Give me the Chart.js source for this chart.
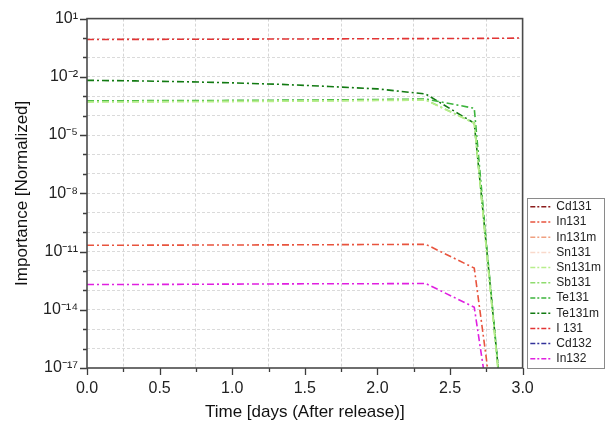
<!DOCTYPE html>
<html>
<head>
<meta charset="utf-8">
<script src="https://cdn.jsdelivr.net/npm/chart.js@4.4.0/dist/chart.umd.min.js"></script>
<style>
  body { margin: 0; background: #fff; }
  #wrap { width: 612px; height: 426px; }
</style>
</head>
<body>
<div id="wrap"><canvas id="chart" width="612" height="426"></canvas></div>
<script>
// Time points [days after release]
const times = [0, 0.333, 0.667, 1.0, 1.333, 1.667, 2.0, 2.333, 2.667, 2.75, 2.833, 3.0];

// Normalized importance per nuclide (null = not visible in plotted range)
const cd131  = [null, null, null, null, null, null, null, null, null, null, null, null];
const in131  = [2.1e-11, 2.12e-11, 2.15e-11, 2.18e-11, 2.2e-11, 2.25e-11, 2.3e-11, 2.35e-11, 1.4e-12, 3.2e-17, 1e-22, null];
const in131m = [null, null, null, null, null, null, null, null, null, null, null, null];
const sn131  = [null, null, null, null, null, null, null, null, null, null, null, null];
const sn131m = [5.0e-4, 5.1e-4, 5.2e-4, 5.3e-4, 5.5e-4, 5.7e-4, 6.0e-4, 6.3e-4, 4.0e-5, 1.4e-11, 5e-18, null];
const sb131  = [5.3e-4, 5.4e-4, 5.5e-4, 5.6e-4, 5.8e-4, 6.0e-4, 6.3e-4, 6.6e-4, 4.2e-5, 1.5e-11, 6e-18, null];
const te131  = [5.8e-4, 5.9e-4, 6.0e-4, 6.1e-4, 6.3e-4, 6.5e-4, 6.8e-4, 7.2e-4, 2.4e-4, 3e-11, 9e-18, null];
const te131m = [6.6e-3, 6.2e-3, 5.6e-3, 4.9e-3, 4.1e-3, 3.2e-3, 2.4e-3, 1.3e-3, 4.1e-5, 2.1e-11, 8e-18, null];
const i131   = [0.84, 0.85, 0.86, 0.87, 0.89, 0.90, 0.92, 0.93, 0.95, 0.96, 0.97, 1.0];
const cd132  = [null, null, null, null, null, null, null, null, null, null, null, null];
const in132  = [2.0e-13, 2.0e-13, 2.05e-13, 2.1e-13, 2.15e-13, 2.2e-13, 2.2e-13, 2.25e-13, 1.35e-14, 1e-18, null, null];

const seriesNames = ['Cd131', 'In131', 'In131m', 'Sn131', 'Sn131m', 'Sb131', 'Te131', 'Te131m', 'I 131', 'Cd132', 'In132'];
const seriesData = [cd131, in131, in131m, sn131, sn131m, sb131, te131, te131m, i131, cd132, in132];
const seriesColors = ['#8b1c1c', '#e8543e', '#f0a080', '#f9d9cb', '#b8ee8c', '#8fdc6e', '#3cb43c', '#127a12', '#e23434', '#32329a', '#e020e0'];

// Axis ticks
const yExponents = [1, 0, -1, -2, -3, -4, -5, -6, -7, -8, -9, -10, -11, -12, -13, -14, -15, -16, -17];
const xMin = 0, xMax = 3, xStep = 0.25;

const supMap = {'-': '\u207B', '0': '\u2070', '1': '\u00B9', '2': '\u00B2', '3': '\u00B3',
  '4': '\u2074', '5': '\u2075', '6': '\u2076', '7': '\u2077', '8': '\u2078', '9': '\u2079'};

function isMajorExp(e) {
    return (e - 1) % 3 === 0;
}

function isHalf(v) {
    return Math.abs(v * 2 - Math.round(v * 2)) < 1e-9;
}

const dash = [7, 3, 2, 3];

const datasets = seriesNames.map((name, i) => ({
    label: name,
    data: times.map((t, j) => ({x: t, y: seriesData[i][j]})),
    borderColor: seriesColors[i],
    backgroundColor: seriesColors[i],
    borderWidth: 1.6,
    borderDash: dash,
    pointRadius: 0,
    fill: false,
    spanGaps: false,
    tension: 0
}));

// frame, tick marks and legend box
const framePlugin = {
    id: 'frame',
    afterLayout(chart) {
        // legend box sits a few px right of the plot frame
        const lg = chart.legend;
        lg.left += 4.5;
        lg.right += 4.5;
    },
    afterDraw(chart) {
        const ctx = chart.ctx;
        const a = chart.chartArea;
        const xs = chart.scales.x;
        const ys = chart.scales.y;
        ctx.save();
        ctx.strokeStyle = '#3c3c3c';
        ctx.lineWidth = 1.3;
        ctx.beginPath();
        yExponents.forEach(e => {
            const y = Math.round(ys.getPixelForValue(Math.pow(10, e))) + 0.5;
            const len = isMajorExp(e) ? 7 : 4;
            ctx.moveTo(a.left - len, y);
            ctx.lineTo(a.left, y);
        });
        for (let v = xMin; v <= xMax + 1e-9; v += xStep) {
            const x = Math.round(xs.getPixelForValue(v)) + 0.5;
            const len = isHalf(v) ? 7 : 4;
            ctx.moveTo(x, a.bottom);
            ctx.lineTo(x, a.bottom + len);
        }
        ctx.stroke();
        ctx.lineWidth = 1.6;
        ctx.strokeStyle = '#4a4a4a';
        ctx.strokeRect(a.left, a.top, a.right - a.left, a.bottom - a.top);

        // legend border
        const boxes = chart.legend.legendHitBoxes;
        if (boxes && boxes.length) {
            let l = Infinity, t = Infinity, r = -Infinity, b = -Infinity;
            boxes.forEach(h => {
                l = Math.min(l, h.left); t = Math.min(t, h.top);
                r = Math.max(r, h.left + h.width); b = Math.max(b, h.top + h.height);
            });
            ctx.lineWidth = 1;
            ctx.strokeStyle = '#8a8a8a';
            ctx.strokeRect(Math.round(l - 3) + 0.5, Math.round(t - 3) + 0.5, Math.round(r - l + 6), Math.round(b - t + 6));
        }
        ctx.restore();
    }
};

new Chart(document.getElementById('chart'), {
    type: 'line',
    data: { datasets: datasets },
    plugins: [framePlugin],
    options: {
        responsive: false,
        animation: false,
        layout: { padding: { top: 18, right: 5.5, left: 0, bottom: 0 } },
        plugins: {
            tooltip: { enabled: false },
            legend: {
                position: 'right',
                align: 'end',
                fullSize: false,
                labels: {
                    usePointStyle: true,
                    pointStyle: 'line',
                    pointStyleWidth: 20,
                    boxHeight: 12,
                    padding: 3.2,
                    color: '#222',
                    font: { family: 'Liberation Sans, Arial, sans-serif', size: 12 },
                    generateLabels: chart => Chart.defaults.plugins.legend.labels.generateLabels(chart)
                        .map(item => Object.assign(item, { lineDash: [5, 2, 2, 2], lineWidth: 1.5 }))
                }
            }
        },
        scales: {
            x: {
                type: 'linear',
                min: xMin,
                max: xMax,
                afterFit: s => { s.height = 58; },
                afterBuildTicks: s => {
                    const t = [];
                    for (let v = xMin; v <= xMax + 1e-9; v += xStep) t.push({value: Math.round(v * 100) / 100});
                    s.ticks = t;
                },
                ticks: {
                    autoSkip: false,
                    maxRotation: 0,
                    padding: 11,
                    color: '#222',
                    font: { family: 'Liberation Sans, Arial, sans-serif', size: 16 },
                    callback: v => isHalf(v) ? v.toFixed(1) : ''
                },
                grid: {
                    drawTicks: false,
                    lineWidth: 1,
                    color: c => (c.tick && isHalf(c.tick.value)) ? 'rgba(0,0,0,0)' : '#d6d6d6'
                },
                border: { display: false, dash: [3, 2] },
                title: {
                    display: true,
                    text: 'Time [days (After release)]',
                    color: '#111',
                    font: { family: 'Liberation Sans, Arial, sans-serif', size: 17 },
                    padding: { top: 0, bottom: 3 }
                }
            },
            y: {
                type: 'logarithmic',
                min: 1e-17,
                max: 10,
                afterFit: s => { s.width = 87; },
                afterBuildTicks: s => {
                    s.ticks = yExponents.map(e => ({value: Math.pow(10, e)}));
                },
                ticks: {
                    autoSkip: false,
                    padding: 9,
                    color: '#222',
                    font: { family: 'Liberation Sans, Arial, sans-serif', size: 16 },
                    callback: v => {
                        const e = Math.round(Math.log10(v));
                        if (!isMajorExp(e)) return '';
                        return '10' + String(e).split('').map(ch => supMap[ch]).join('');
                    }
                },
                grid: {
                    drawTicks: false,
                    lineWidth: 1,
                    color: c => {
                        if (!c.tick) return '#dadada';
                        const e = Math.round(Math.log10(c.tick.value));
                        return (e === 1 || e === -17) ? 'rgba(0,0,0,0)' : '#dadada';
                    }
                },
                border: { display: false, dash: [3, 2] },
                title: {
                    display: true,
                    text: 'Importance [Normalized]',
                    color: '#111',
                    font: { family: 'Liberation Sans, Arial, sans-serif', size: 17 },
                    padding: { top: 12, bottom: 0 }
                }
            }
        }
    }
});
</script>
</body>
</html>
